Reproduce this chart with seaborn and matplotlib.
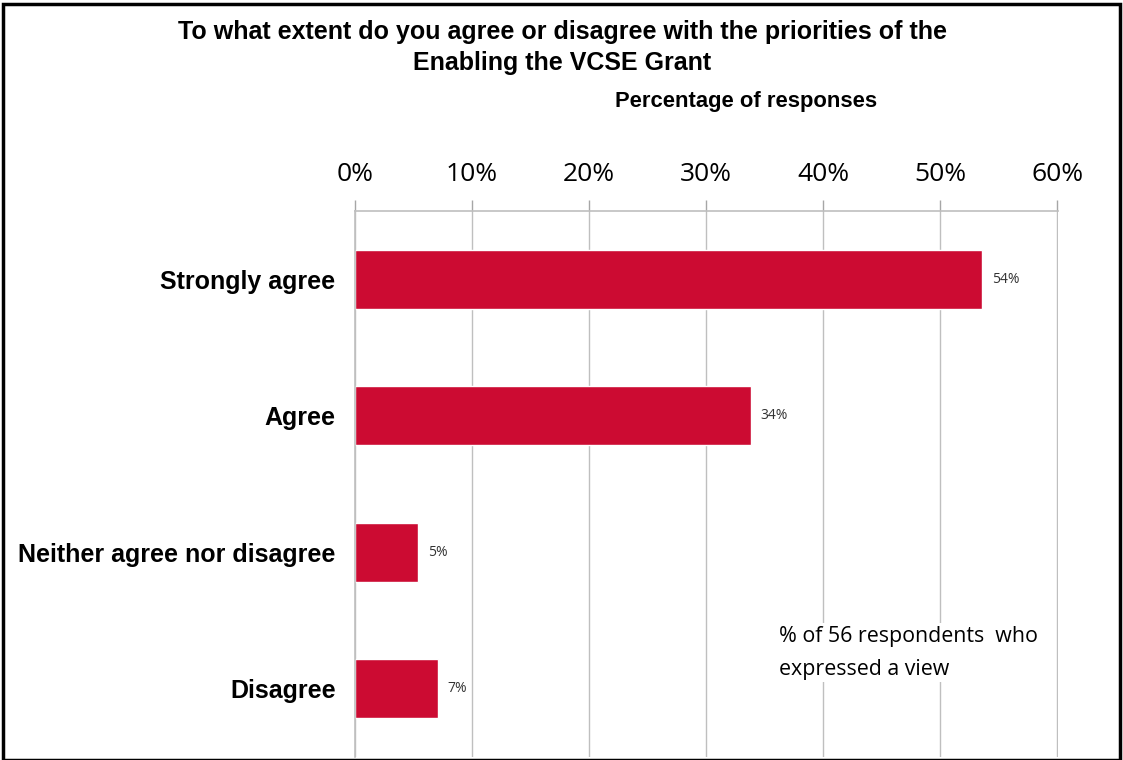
import matplotlib
matplotlib.use('Agg')
import matplotlib.pyplot as plt
import seaborn as sns
import pandas as pd
from matplotlib.patches import Rectangle
from matplotlib.ticker import FixedLocator, PercentFormatter

# Данные
categories = ['Strongly agree', 'Agree', 'Neither agree nor disagree', 'Disagree']
values = [53.6, 33.8, 5.4, 7.1]
labels = ['54%', '34%', '5%', '7%']
xticks = [0, 10, 20, 30, 40, 50, 60]

df = pd.DataFrame({'category': categories, 'pct': values})

sns.set_style('white')
plt.rcParams['font.family'] = ['Liberation Sans', 'DejaVu Sans']
plt.rcParams['text.color'] = 'black'
plt.rcParams['xtick.labelcolor'] = 'black'
plt.rcParams['ytick.labelcolor'] = 'black'

fig = plt.figure(figsize=(11.23, 7.60), dpi=100)
ax = fig.add_axes([0.3161, 0.004, 0.626, 0.7184])

sns.barplot(data=df, x='pct', y='category', orient='h', color='#CC0B32',
            width=0.43, saturation=1, ax=ax)

ax.set_xlim(0, 60.05)
ax.set_ylim(3.5, -0.5)
ax.set_xticks(xticks)
ax.xaxis.set_major_formatter(PercentFormatter(decimals=0))
ax.xaxis.tick_top()
ax.tick_params(axis='x', which='major', length=8, color='#A6A6A6', width=1,
               labelsize=19, pad=9)
for t in ax.get_xticklabels():
    t.set_family(['Open Sans', 'DejaVu Sans'])
ax.grid(axis='x', color='#BFBFBF', lw=1)
ax.set_axisbelow(True)

# Границы категорий на левой оси
ax.yaxis.set_minor_locator(FixedLocator([-0.5, 0.5, 1.5, 2.5, 3.5]))
ax.tick_params(axis='y', which='minor', length=10, color='#A6A6A6', width=1)
ax.tick_params(axis='y', which='major', length=0, labelsize=18, pad=14)
for t in ax.get_yticklabels():
    t.set_fontweight('bold')

for s in ['right', 'bottom']:
    ax.spines[s].set_visible(False)
for s in ['top', 'left']:
    ax.spines[s].set_color('#BFBFBF')
    ax.spines[s].set_linewidth(1.2)

ax.set_xlabel('')
ax.set_ylabel('')

# Подписи значений
for i, (v, lab) in enumerate(zip(values, labels)):
    ax.text(v + 0.8, i, lab, va='center', ha='left', fontsize=10,
            family=['Open Sans', 'DejaVu Sans'], color='#333333')

ax.text(36.2, 2.735, '% of 56 respondents  who\nexpressed a view', fontsize=15.4,
        family=['Open Sans', 'DejaVu Sans'], va='center', ha='left',
        linespacing=1.75, bbox=dict(facecolor='white', edgecolor='none', pad=2))

fig.text(0.5005, 0.9375, 'To what extent do you agree or disagree with the priorities of the\nEnabling the VCSE Grant',
         ha='center', va='center', fontsize=18, fontweight='bold', linespacing=1.35)
fig.text(0.664, 0.867, 'Percentage of responses', ha='center', va='center',
         fontsize=15.8, fontweight='bold')

fig.patches.append(Rectangle((0.003, 0.0), 0.994, 0.995, transform=fig.transFigure,
                             fill=False, edgecolor='black', lw=2.5))

fig.savefig('out.png', dpi=100)
